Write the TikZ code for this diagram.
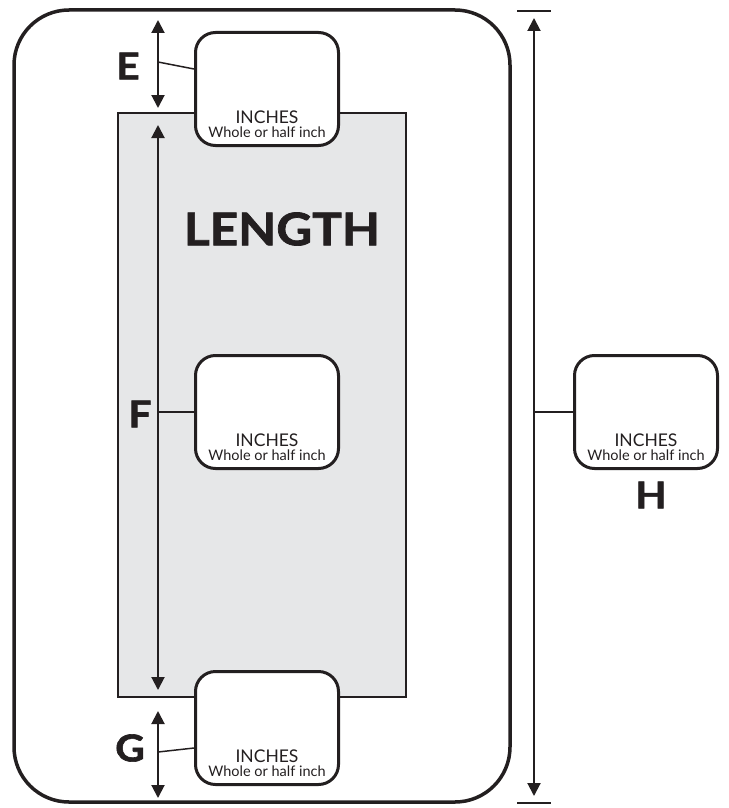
\documentclass[tikz,border=0pt]{standalone}
\usepackage{fontspec}
\setmainfont{Lato}
\newfontfamily\heavyfont{Lato}[FakeStretch=1.1,BoldFeatures={FakeBold=1.6}]
\usetikzlibrary{arrows.meta,positioning}
\definecolor{inkmain}{HTML}{231F20}
\definecolor{panelgray}{HTML}{E6E7E8}
\tikzset{every node/.append style={font=\rmfamily,text=inkmain}}
\tikzset{
  sizebox/.style={draw=inkmain,line width=3pt,rounded corners=20pt,fill=white,
    minimum width=143pt,minimum height=113pt,inner sep=0pt},
  unittext/.style={anchor=base,inner sep=0pt,font=\fontsize{17.5}{17.5}\selectfont},
  hinttext/.style={anchor=base,inner sep=0pt,font=\fontsize{14.5}{14.5}\selectfont},
  dimarrow/.style={{Triangle[length=13pt,width=13pt]}-{Triangle[length=13pt,width=13pt]},
    line width=2pt,draw=inkmain},
  leader/.style={line width=1.5pt,draw=inkmain},
  dimletter/.style={font=\heavyfont\bfseries\fontsize{37}{37}\selectfont},
}

\begin{document}
\begin{tikzpicture}[x=1pt,y=-1pt]
  \useasboundingbox (0,0) rectangle (728,808);
  % outer frame and panel
  \draw[inkmain,line width=3.5pt,rounded corners=55pt] (14,10) rectangle (510,802);
  \draw[inkmain,fill=panelgray,line width=2pt] (118,113) rectangle (406,697);
  \node[font=\heavyfont\bfseries\fontsize{45}{45}\selectfont] (len) at (282,229) {LENGTH};

  % size boxes
  \node[sizebox] (boxE) at (267,89) {};
  \node[sizebox] (boxF) at (267,412) {};
  \node[sizebox] (boxG) at (267,728) {};
  \node[sizebox] (boxH) at (646,412) {};
  \foreach \b in {E,F,G,H}{
    \node[unittext] (unit\b) at ([yshift=24pt]box\b.south) {INCHES};
    \node[hinttext] (hint\b) at ([yshift=10pt]box\b.south) {Whole or half inch};
  }

  % E
  \coordinate (eTop) at (158,20);
  \coordinate (eBot) at (158,108);
  \coordinate (eMid) at (158,62);
  \draw[dimarrow] (eTop) -- (eBot);
  \draw[leader] (eMid) -- ([yshift=20pt]boxE.west);
  \node[dimletter] (labE) at (128,66) {E};

  % F
  \coordinate (fTop) at (158,125);
  \coordinate (fBot) at (158,690);
  \coordinate (fMid) at (158,412);
  \draw[dimarrow] (fTop) -- (fBot);
  \draw[leader] (fMid) -- (boxF.west);
  \node[dimletter] (labF) at (140,414) {F};

  % G
  \coordinate (gTop) at (158,711);
  \coordinate (gBot) at (158,798);
  \coordinate (gMid) at (158,752);
  \draw[dimarrow] (gTop) -- (gBot);
  \draw[leader] (gMid) -- ([yshift=-20pt]boxG.west);
  \node[dimletter] (labG) at (130,748) {G};

  % H
  \coordinate (hTop) at (534,18);
  \coordinate (hBot) at (534,796);
  \coordinate (hMid) at (534,412);
  \draw[leader] (517,11) -- (551,11);
  \draw[leader] (517,803) -- (551,803);
  \draw[dimarrow] (hTop) -- (hBot);
  \draw[leader] (hMid) -- (boxH.west);
  \node[dimletter] (labH) at (651,495) {H};
\end{tikzpicture}
\end{document}
